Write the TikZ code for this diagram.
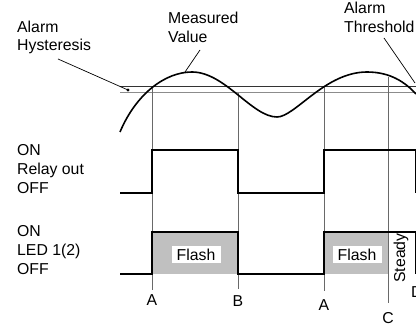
\documentclass[tikz,border=0pt]{standalone}
\usepackage{fontspec}
\setmainfont{Liberation Sans}
\usetikzlibrary{positioning}
\definecolor{flashgray}{RGB}{192,192,192}
\definecolor{guidegray}{RGB}{105,105,105}
\definecolor{lowgray}{RGB}{140,140,140}

\begin{document}
\begin{tikzpicture}[x=1pt,y=-1pt,
  lbl/.style={align=left,anchor=north west,inner sep=0pt,font=\fontsize{15.8}{19}\selectfont},
  pointlbl/.style={anchor=base,inner sep=0pt,font=\fontsize{15.8}{19}\selectfont},
  guide/.style={draw=guidegray,line width=0.7pt},
  wave/.style={line width=1.3pt,line join=miter},
  leader/.style={line width=0.7pt},
  flashbox/.style={fill=white,minimum width=49pt,minimum height=17pt,inner sep=0pt,font=\fontsize{15.8}{19}\selectfont}
]
\useasboundingbox (0,0) rectangle (416,326);

% labels
\node[lbl,font=\fontsize{15.8}{18}\selectfont] (hyst) at (17,20.5) {Alarm\\Hysteresis};
\node[lbl] (meas) at (168,11.5) {Measured\\Value};
\node[lbl] (thr) at (344,1.5) {Alarm\\Threshold};
\node[lbl] (relay) at (17,144.5) {ON\\Relay out\\OFF};
\node[lbl] (led) at (17,225.5) {ON\\LED 1(2)\\OFF};

% threshold and hysteresis lines
\draw[line width=1pt,draw=black!80] (120,87) -- (416,87);
\draw[line width=1pt,draw=lowgray] (120,93) -- (416,93);
\coordinate (dot) at (128,90);
\fill (dot) circle (1.7pt);

% points on the curve
\coordinate (a1) at (152,87);
\coordinate (b1) at (238,93);
\coordinate (a2) at (324,87);
\coordinate (c1) at (388,77);
\coordinate (mtop) at (185,72);
\coordinate (tend) at (415,83);

% LED flash areas
\fill[flashgray] (152,232) rectangle (238,274);
\fill[flashgray] (324,232) rectangle (388,274);

% point labels
\node[pointlbl] (la1) at (152,306) {A};
\node[pointlbl] (lb1) at (238,307) {B};
\node[pointlbl] (la2) at (324,311) {A};
\node[pointlbl] (lc1) at (388,324) {C};
\node[pointlbl,anchor=base west] (ld1) at (411,298) {D};

\draw[guide] (a1) -- ([yshift=5pt]la1.north);
\draw[guide] (b1) -- ([yshift=7pt]lb1.north);
\draw[guide] (a2) -- ([yshift=9pt]la2.north);
\draw[guide] (c1) -- ([yshift=10pt]lc1.north);

% measured value
\draw[line width=1.6pt] (120,132) .. controls (136,94) and (165,72) .. (192,72)
  .. controls (225,72) and (252,117) .. (277,117)
  .. controls (295,117) and (325,72) .. (367,72)
  .. controls (390,72) and (405,82) .. (416,94);

% leaders
\coordinate (hs) at (58,59);
\coordinate (ms) at (200,50);
\coordinate (ts) at (384,38);
\draw[leader] (hs) -- (dot);
\draw[leader] (ms) -- (mtop);
\draw[leader] (ts) -- (tend);

% relay output
\draw[wave] (120,193) -- (152,193) -- (152,150) -- (238,150) -- (238,193) -- (324,193) -- (324,150) -- (415.4,150) -- (415.4,193);

% LED output
\draw[wave] (120,274) -- (152,274) -- (152,232) -- (238,232) -- (238,274) -- (324,274) -- (324,232) -- (415.4,232) -- (415.4,274);
\node[flashbox] (fl1) at (196,254.5) {Flash};
\node[flashbox] (fl2) at (357,254.5) {Flash};
\node[rotate=90,inner sep=0pt,font=\fontsize{15.8}{19}\selectfont] (steady) at (401,258) {Steady};
\end{tikzpicture}
\end{document}
